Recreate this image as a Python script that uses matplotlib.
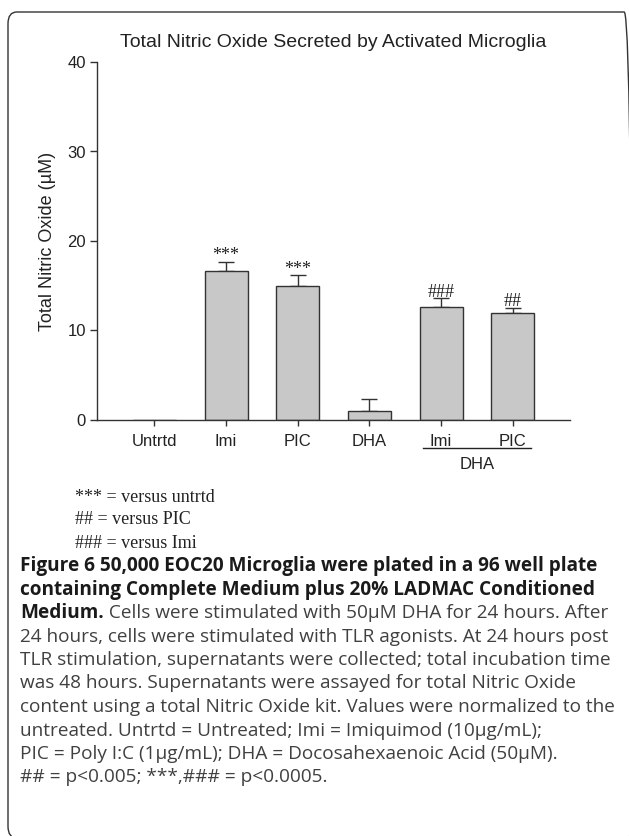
import matplotlib
matplotlib.use("Agg")
import matplotlib.pyplot as plt
from matplotlib.patches import FancyBboxPatch
import numpy as np

categories = ["Untrtd", "Imi", "PIC", "DHA", "Imi", "PIC"]
values = [0.0, 16.7, 15.0, 1.0, 12.57, 11.98]
errors = [0.0, 0.95, 1.15, 1.37, 1.03, 0.52]
sig_labels = ["", "***", "***", "", "###", "##"]
yticks = [0, 10, 20, 30, 40]

legend_lines = ["*** = versus untrtd", "## = versus PIC", "### = versus Imi"]
caption_bold_1 = "Figure 6 50,000 EOC20 Microglia were plated in a 96 well plate"
caption_bold_2 = "containing Complete Medium plus 20% LADMAC Conditioned"
caption_bold_3 = "Medium."
caption_rest_3 = " Cells were stimulated with 50\u00b5M DHA for 24 hours. After"
caption_lines = [
    "24 hours, cells were stimulated with TLR agonists. At 24 hours post",
    "TLR stimulation, supernatants were collected; total incubation time",
    "was 48 hours. Supernatants were assayed for total Nitric Oxide",
    "content using a total Nitric Oxide kit. Values were normalized to the",
    "untreated. Untrtd = Untreated; Imi = Imiquimod (10\u00b5g/mL);",
    "PIC = Poly I:C (1\u00b5g/mL); DHA = Docosahexaenoic Acid (50\u00b5M).",
    "## = p<0.005; ***,### = p<0.0005.",
]

W, H = 629, 836
fig = plt.figure(figsize=(W / 100, H / 100), dpi=100)

def fx(px):
    return px / W

def fy(py):
    return 1 - py / H

# rounded frame
frame = FancyBboxPatch((fx(8), fy(838)), fx(633) - fx(8), fy(12) - fy(838),
                       boxstyle="round,pad=0,rounding_size=0.014",
                       transform=fig.transFigure, fill=False,
                       edgecolor="#333333", linewidth=1.0)
fig.patches.append(frame)

ax = fig.add_axes([fx(97), fy(420), fx(570) - fx(97), fy(62) - fy(420)])
x = np.arange(len(categories))
ax.bar(x, values, width=0.6, color="#c8c8c8", edgecolor="#333333", linewidth=1.0, zorder=2)
err = np.array(errors)
mask = err > 0
ax.errorbar(x[mask], np.array(values)[mask], yerr=[np.zeros(mask.sum()), err[mask]], fmt="none",
            ecolor="#333333", elinewidth=1.0, capsize=6, capthick=1.0, zorder=1)
for xi, v, e, s in zip(x, values, errors, sig_labels):
    if s:
        ax.text(xi, v + e - 0.25, s, ha="center", va="bottom",
                family="Liberation Serif", fontsize=13, color="#222222")

ax.set_xlim(-0.8, len(categories) - 0.2)
ax.set_ylim(0, 40)
ax.set_yticks(yticks)
ax.set_xticks(x)
ax.set_xticklabels(categories)
for sp in ["top", "right"]:
    ax.spines[sp].set_visible(False)
for sp in ["left", "bottom"]:
    ax.spines[sp].set_color("#333333")
    ax.spines[sp].set_linewidth(1.0)
ax.tick_params(axis="both", direction="out", colors="#333333", labelcolor="#222222",
               labelsize=12, width=1.0)
ax.tick_params(axis="y", length=5, pad=3)
ax.tick_params(axis="x", length=4, pad=6)
for lab in ax.get_xticklabels() + ax.get_yticklabels():
    lab.set_family("Liberation Sans")
ax.set_ylabel("Total Nitric Oxide (\u00b5M)", family="Liberation Sans", fontsize=13,
              color="#222222", labelpad=8)
ax.set_title("Total Nitric Oxide Secreted by Activated Microglia",
             family="Liberation Sans", fontsize=14.0, color="#222222", pad=11)

# DHA group line and label
ax.plot([3.75, 5.25], [-3.1, -3.1], color="#222222", lw=1.0, clip_on=False,
        transform=ax.transData)
ax.text(4.5, -4.1, "DHA", ha="center", va="top", family="Liberation Sans",
        fontsize=12, color="#222222")

# legend lines
for i, line in enumerate(legend_lines):
    fig.text(fx(75), fy(497 + 23 * i), line, ha="left", va="center",
             family="Liberation Serif", fontsize=13, color="#222222")

# caption
cap_font = "Open Sans"
cap_size = 13.7
cap_x = fx(20)
ys = [566 + 23.5 * i for i in range(10)]
fig.text(cap_x, fy(ys[0]), caption_bold_1, ha="left", va="center", family=cap_font,
         fontsize=cap_size, weight="bold", color="#1a1a1a")
fig.text(cap_x, fy(ys[1]), caption_bold_2, ha="left", va="center", family=cap_font,
         fontsize=cap_size, weight="bold", color="#1a1a1a")
t3 = fig.text(cap_x, fy(ys[2]), caption_bold_3, ha="left", va="center", family=cap_font,
              fontsize=cap_size, weight="bold", color="#1a1a1a")
fig.canvas.draw()
renderer = fig.canvas.get_renderer()
bb = t3.get_window_extent(renderer)
x_after = bb.x1 / W
fig.text(x_after, fy(ys[2]), caption_rest_3, ha="left", va="center",
         family=cap_font, fontsize=cap_size, color="#404040")
for i, line in enumerate(caption_lines):
    fig.text(cap_x, fy(ys[3 + i]), line, ha="left", va="center", family=cap_font,
             fontsize=cap_size, color="#404040")

fig.savefig("out.png", dpi=100)
